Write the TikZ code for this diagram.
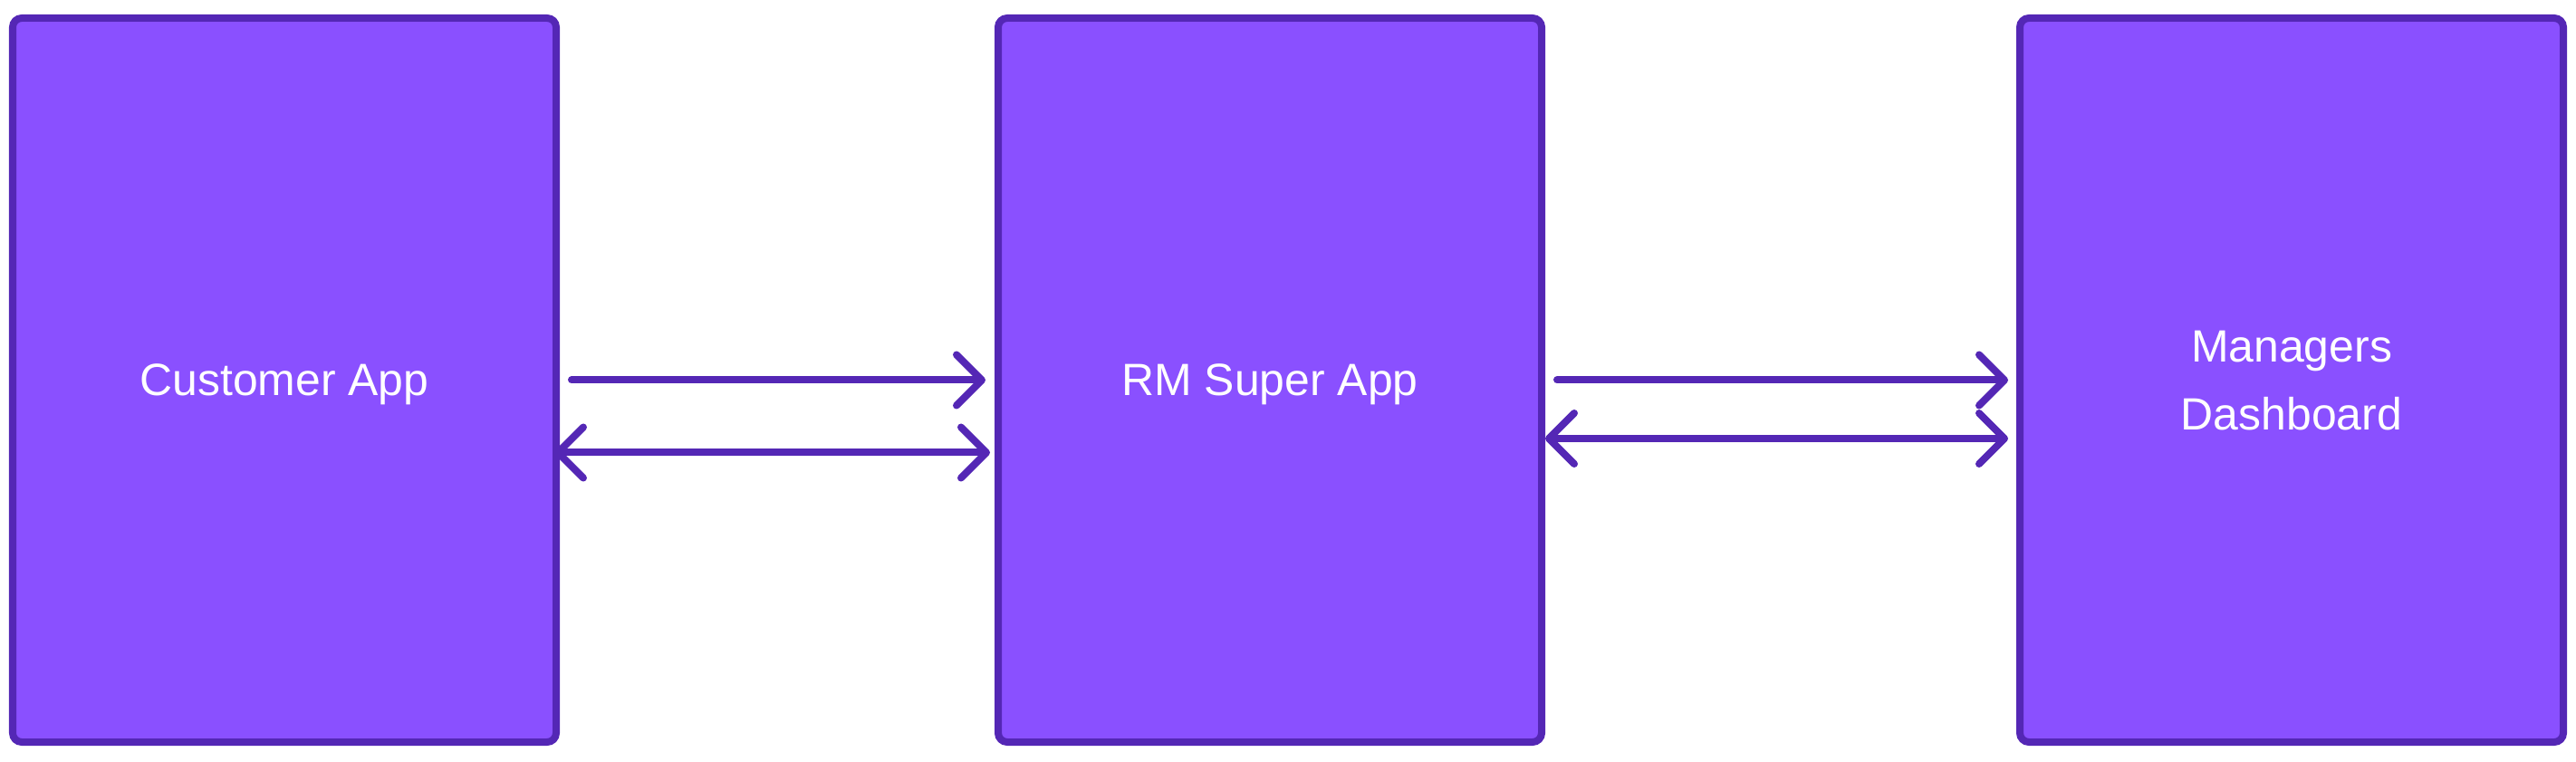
\documentclass[tikz,border=0pt]{standalone}
\usepackage{fontspec}
\setmainfont{Liberation Sans}
\usepackage{xcolor}
\usetikzlibrary{arrows.meta,positioning}
\definecolor{appfill}{HTML}{8A50FF}
\definecolor{appedge}{HTML}{5427B5}

\begin{document}
\begin{tikzpicture}[
  node distance=4.8cm,
  app/.style={rectangle, draw=appedge, fill=appfill, line width=0.08cm,
              rounded corners=0.1cm, minimum width=6cm, minimum height=7.99cm,
              text=white, align=center, text depth=0pt,
              font=\fontsize{14.2pt}{21.3pt}\selectfont},
  arr/.style={-{Straight Barb[length=0.28cm, width=0.56cm, round]},
              draw=appedge, line width=0.08cm, line cap=round},
  dbl/.style={arr, {Straight Barb[length=0.28cm, width=0.56cm, round]}-{Straight Barb[length=0.28cm, width=0.56cm, round]}}
]
\useasboundingbox (0,0) rectangle (28.44,8.4);
\node[app]                    (cust) at (3.14,4.205) {Customer App};
\node[app, right=of cust]     (rm)   {RM Super App};
\node[app, right=5.2cm of rm] (mgr)  {Managers\\Dashboard};

\draw[arr] ([xshift=0.13cm]cust.east) -- ([xshift=-0.1cm]rm.west);
\draw[dbl] ([shift={(-0.06cm,-0.8cm)}]cust.east) -- ([shift={(-0.05cm,-0.8cm)}]rm.west);
\draw[arr] ([xshift=0.13cm]rm.east) -- ([xshift=-0.09cm]mgr.west);
\draw[dbl] ([yshift=-0.645cm]rm.east) -- ([shift={(-0.09cm,-0.645cm)}]mgr.west);
\end{tikzpicture}
\end{document}
